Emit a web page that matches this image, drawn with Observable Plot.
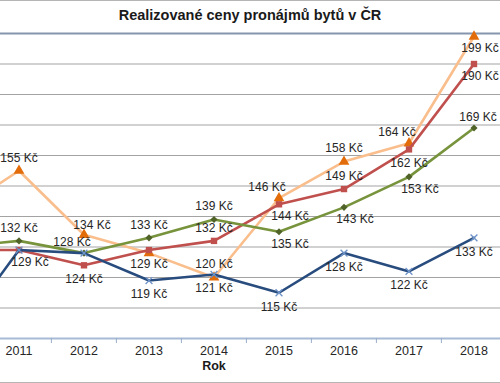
<!DOCTYPE html>
<html><head><meta charset="utf-8">
<script src="https://cdn.jsdelivr.net/npm/d3@7"></script>
<script src="https://cdn.jsdelivr.net/npm/@observablehq/plot@0.6"></script>
<style>
html,body{margin:0;padding:0;background:#fff;overflow:hidden;width:500px;height:383px;}
#wrap{position:relative;width:500px;height:383px;overflow:hidden;border-top:1px solid #b5b5b5;border-bottom:1px solid #b5b5b5;box-sizing:border-box;}
#title{height:25px;padding-top:6px;line-height:20px;text-align:center;font:bold 14.5px "Liberation Sans",Arial,sans-serif;color:#1a1a1a;white-space:nowrap;}
#chart{height:350px;}
#chart svg{margin-left:-80px;display:block;}
</style></head>
<body>
<div id="wrap">
  <div id="title">Realizované ceny pronájmů bytů v ČR</div>
  <div id="chart"></div>
</div>
<script>
// ---- data ----
const years = [2010, 2011, 2012, 2013, 2014, 2015, 2016, 2017, 2018];
const shownYears = [2011, 2012, 2013, 2014, 2015, 2016, 2017, 2018];
const blueValues   = [100, 129, 128, 119, 121, 115, 128, 122, 133];
const redValues    = [129, 129, 124, 129, 132, 144, 149, 162, 190];
const greenValues  = [130, 132, 128, 133, 139, 135, 143, 153, 169];
const orangeValues = [141, 155, 134, 128, 120, 146, 158, 164, 199];
// label placement codes ("" = no label shown)
const blueLabels   = ["", "SE", "", "S", "S", "S", "S", "S", "S"];
const redLabels    = ["", "", "S", "S", "N", "SE", "N", "S", "Se"];
const greenLabels  = ["", "N", "NW", "N", "N", "SE", "SE", "SE", "Ne"];
const orangeLabels = ["", "N", "NE", "", "N", "NW", "N", "NW", "Se"];
const yTicks = [100, 110, 120, 130, 140, 150, 160, 170, 180, 190, 200];
const xLabel = "Rok";
const unit = "Kč";

// ---- styles ----
const series = [
  {key: "orange", values: orangeValues, labels: orangeLabels, line: "#f9be8c", mark: "#e36c0a", symbol: "triangle", r: 4.0},
  {key: "red", values: redValues, labels: redLabels, line: "#c0504d", mark: "#c0504d", symbol: "square", r: 3.6},
  {key: "green", values: greenValues, labels: greenLabels, line: "#77933c", mark: "#4f6228", symbol: "diamond2", r: 3.2},
  {key: "blue", values: blueValues, labels: blueLabels, line: "#284c7e", mark: "#6d93c8", symbol: "times", r: 3.2}
];
const rows = series.flatMap(s => years.map((yr, i) => ({key: s.key, year: yr, value: s.values[i], label: s.labels[i]})));
const offsets = {N: [0, -13], S: [0, 14], NW: [-12, -11], NE: [8, -10], SE: [11, 12], Se: [6, 12], Ne: [4, -11]};
const font = '"Liberation Sans", Arial, sans-serif';

const marks = [
  Plot.ruleY(yTicks.filter(t => t > 100 && t < 200), {stroke: "#a3a3a3", strokeWidth: 1}),
  Plot.ruleY([200], {stroke: "#8595ad", strokeWidth: 2}),
  Plot.ruleY([100], {stroke: "#a7bbd6", strokeWidth: 2}),
  Plot.axisX(years, {tickSize: 5, tickFormat: () => "", dx: -32.6, stroke: "#9aaecb", label: null}),
  Plot.axisX(shownYears, {tickSize: 0, tickPadding: 8, fontSize: 12.5, fill: "#262626", label: null, tickFormat: d => String(d)})
];
for (const s of series) {
  const d = rows.filter(r => r.key === s.key);
  marks.push(Plot.line(d, {x: "year", y: "value", stroke: s.line, strokeWidth: 2.6, strokeLinejoin: "miter"}));
  marks.push(Plot.dot(d, s.symbol === "times"
    ? {x: "year", y: "value", symbol: "times", r: s.r, stroke: s.mark, strokeWidth: 1.3}
    : {x: "year", y: "value", symbol: s.symbol, r: s.r, fill: s.mark}));
}
for (const code of Object.keys(offsets)) {
  marks.push(Plot.text(rows.filter(r => r.label === code), {
    x: "year", y: "value", text: r => `${r.value} ${unit}`,
    dx: offsets[code][0], dy: offsets[code][1], fontSize: 12, fill: "#262626"
  }));
}
marks.push(Plot.text([xLabel], {frameAnchor: "bottom", dy: 31, fontWeight: "bold", fontSize: 12.5, fill: "#1a1a1a"}));

const chart = Plot.plot({
  width: 587, height: 350,
  marginTop: 1, marginBottom: 44, marginLeft: 0, marginRight: 0,
  style: {fontFamily: font, maxWidth: "none", background: "transparent", overflow: "visible"},
  x: {type: "band", domain: years, padding: 0, axis: null},
  y: {domain: [100, 200], axis: null},
  marks
});
document.getElementById("chart").appendChild(chart);
</script>
</body></html>
